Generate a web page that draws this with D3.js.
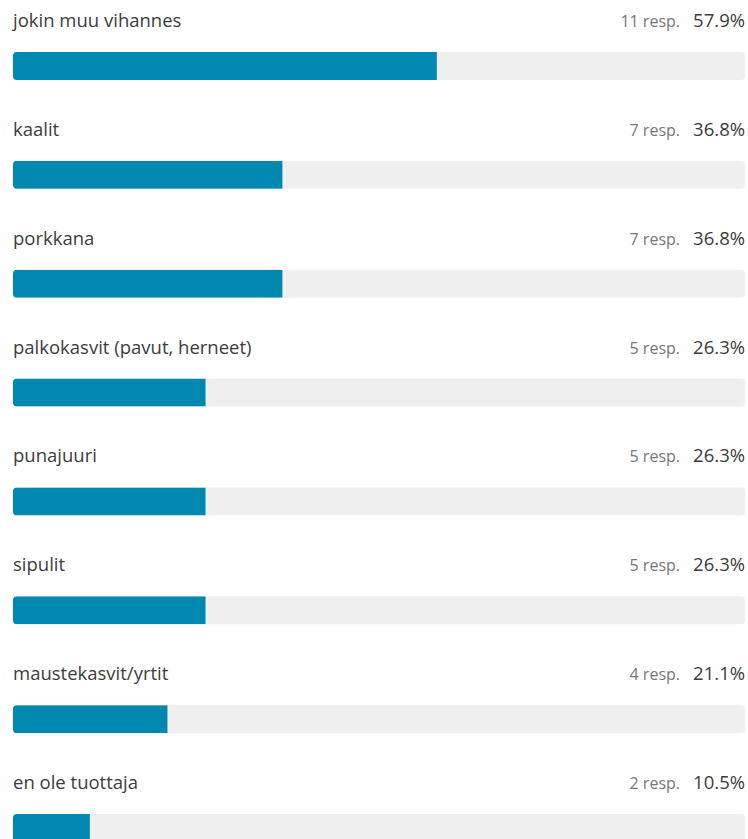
<!DOCTYPE html>
<meta charset="utf-8">
<style>
  body { margin: 0; background: #fff; }
  text { font-family: "Open Sans", "Noto Sans", sans-serif; }
</style>
<body>
<script src="https://d3js.org/d3.v7.min.js"></script>
<script>

// data
var categories = ["jokin muu vihannes", "kaalit", "porkkana", "palkokasvit (pavut, herneet)",
                  "punajuuri", "sipulit", "maustekasvit/yrtit", "en ole tuottaja"];
var responses = [11, 7, 7, 5, 5, 5, 4, 2];
var percents = [57.9, 36.8, 36.8, 26.3, 26.3, 26.3, 21.1, 10.5];

var width = 748, height = 839;

var svg = d3.select("body")
  .append("svg")
    .attr("width", width)
    .attr("height", height);

var x = d3.scaleLinear()
  .domain([0, 100])
  .range([13, 745]);

// each row = label line + bar
var y = d3.scaleBand()
  .domain(categories)
  .range([0, 108.86 * categories.length]);

var barTop = 52, barH = 28;

var rows = svg.selectAll("g.row")
  .data(categories)
  .enter()
  .append("g")
    .attr("class", "row")
    .attr("transform", function(d) { return "translate(0," + y(d) + ")"; });

// clip each bar to its rounded track
rows.append("clipPath")
    .attr("id", function(d, i) { return "clip" + i; })
  .append("rect")
    .attr("x", x(0))
    .attr("y", barTop)
    .attr("width", x(100) - x(0))
    .attr("height", barH)
    .attr("rx", 4);

rows.append("rect")
    .attr("x", x(0))
    .attr("y", barTop)
    .attr("width", x(100) - x(0))
    .attr("height", barH)
    .attr("rx", 4)
    .attr("fill", "#efefef");

rows.append("rect")
    .attr("clip-path", function(d, i) { return "url(#clip" + i + ")"; })
    .attr("x", x(0))
    .attr("y", barTop)
    .attr("width", function(d, i) { return x(percents[i]) - x(0); })
    .attr("height", barH)
    .attr("fill", "#0088b0");

rows.append("text")
    .attr("x", 13)
    .attr("y", 27)
    .text(function(d) { return d; })
    .style("font-size", "18.5px")
    .style("fill", "#3c3c3c");

rows.append("text")
    .attr("x", 745)
    .attr("y", 27)
    .attr("text-anchor", "end")
    .text(function(d, i) { return percents[i].toFixed(1) + "%"; })
    .style("font-size", "18.5px")
    .style("fill", "#3c3c3c");

rows.append("text")
    .attr("x", 680)
    .attr("y", 27)
    .attr("text-anchor", "end")
    .text(function(d, i) { return responses[i] + " resp."; })
    .style("font-size", "16px")
    .style("fill", "#777");

</script>
</body>
